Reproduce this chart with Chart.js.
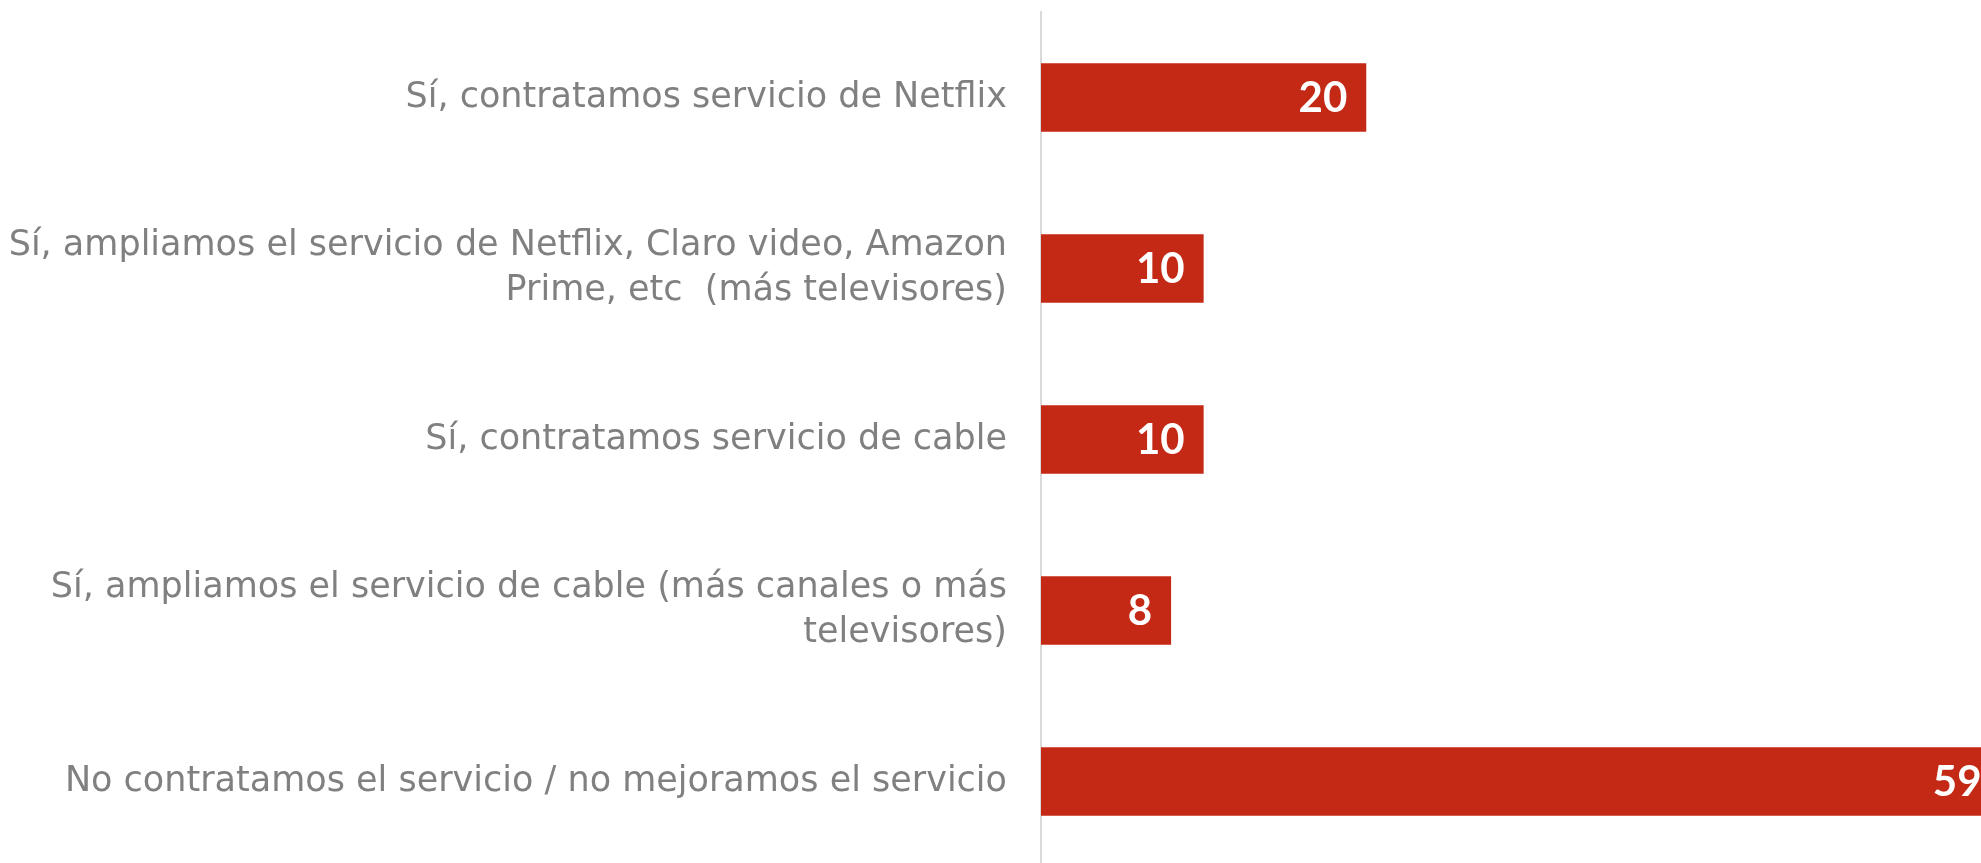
<!DOCTYPE html>
<html>
<head>
<meta charset="utf-8">
<script src="https://cdn.jsdelivr.net/npm/chart.js@4/dist/chart.umd.min.js"></script>
<style>
  html, body { margin: 0; padding: 0; background: #fff; overflow: hidden; }
  #wrap { width: 1981px; height: 867px; }
</style>
</head>
<body>
<div id="wrap"><canvas id="chart"></canvas></div>
<script>
const categories = [
    ['Sí, contratamos servicio de Netflix'],
    ['Sí, ampliamos el servicio de Netflix, Claro video, Amazon', 'Prime, etc  (más televisores)'],
    ['Sí, contratamos servicio de cable'],
    ['Sí, ampliamos el servicio de cable (más canales o más', 'televisores)'],
    ['No contratamos el servicio / no mejoramos el servicio']
];
const values = [20, 10, 10, 8, 59];

const barLabels = {
    id: 'barLabels',
    afterDatasetsDraw(chart) {
        const ctx = chart.ctx;
        const meta = chart.getDatasetMeta(0);
        ctx.save();
        ctx.fillStyle = '#ffffff';
        ctx.font = 'bold 42px Lato, sans-serif';
        ctx.textAlign = 'right';
        ctx.textBaseline = 'middle';
        meta.data.forEach((bar, i) => {
            ctx.fillText(String(values[i]), bar.x - 19, bar.y + 1);
        });
        ctx.restore();
    }
};

new Chart(document.getElementById('chart').getContext('2d'), {
    type: 'bar',
    data: {
        labels: categories,
        datasets: [{
            data: values,
            backgroundColor: '#C42915',
            categoryPercentage: 1,
            barPercentage: 0.4
        }]
    },
    options: {
        indexAxis: 'y',
        responsive: true,
        maintainAspectRatio: false,
        animation: false,
        layout: { padding: { top: 12, right: 0, bottom: 0, left: 0 } },
        plugins: {
            legend: { display: false },
            tooltip: { enabled: false }
        },
        scales: {
            x: {
                display: false,
                min: 0,
                max: 57.8
            },
            y: {
                afterFit(scale) {
                    scale.width = 1041;
                    scale.paddingTop = 0;
                    scale.paddingBottom = 0;
                },
                grid: { display: false, drawTicks: false },
                border: { display: true, color: '#d9d9d9', width: 2 },
                ticks: {
                    color: '#808080',
                    padding: 34,
                    font: { family: '"DejaVu Sans", sans-serif', size: 35, lineHeight: 1.3 }
                }
            }
        }
    },
    plugins: [barLabels]
});
</script>
</body>
</html>
